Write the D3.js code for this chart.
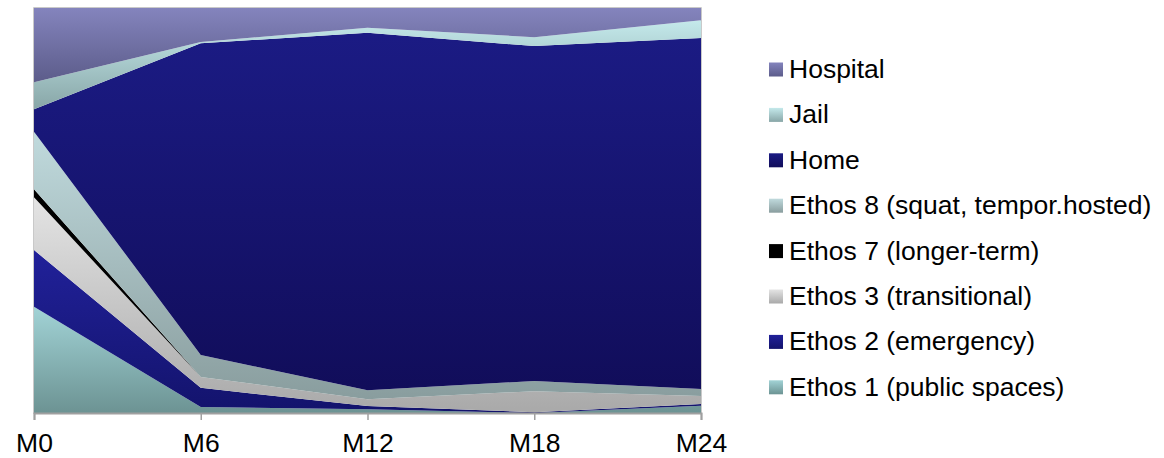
<!DOCTYPE html>
<html>
<head>
<meta charset="utf-8">
<script src="https://cdn.jsdelivr.net/npm/d3@7"></script>
<style>
  html, body { margin: 0; padding: 0; background: #fff; }
  svg { display: block; }
  text { font-family: "Liberation Sans", Arial, sans-serif; fill: #000; }
</style>
</head>
<body>
<svg id="chart" width="1164" height="458"></svg>
<script>
// Follow-up time points
const months = ["M0", "M6", "M12", "M18", "M24"];

// Share of participants (%) in each housing situation, bottom to top of the stack
const ethos1   = [26.2, 1.5, 0.9, 0.0, 1.8];
const ethos2   = [14.0, 4.7, 0.8, 0.2, 0.4];
const ethos3   = [13.0, 2.7, 1.7, 5.2, 2.0];
const ethos7   = [2.0, 0.0, 0.0, 0.0, 0.0];
const ethos8   = [14.2, 5.4, 2.2, 2.5, 1.7];
const home     = [5.5, 76.8, 88.3, 82.7, 86.7];
const jail     = [6.7, 0.3, 1.2, 2.2, 4.4];
const hospital = [18.3, 8.4, 4.9, 7.2, 3.0];

const seriesKeys = ["ethos1", "ethos2", "ethos3", "ethos7", "ethos8", "home", "jail", "hospital"];
const seriesLabels = {
  ethos1: "Ethos 1 (public spaces)",
  ethos2: "Ethos 2 (emergency)",
  ethos3: "Ethos 3 (transitional)",
  ethos7: "Ethos 7 (longer-term)",
  ethos8: "Ethos 8 (squat, tempor.hosted)",
  home: "Home",
  jail: "Jail",
  hospital: "Hospital"
};
const seriesValues = { ethos1, ethos2, ethos3, ethos7, ethos8, home, jail, hospital };

// vertical gradient fills: [top colour, bottom colour]
const fills = {
  hospital: ["#8484bd", "#5c5c8a"],
  jail:     ["#c4e9eb", "#88a6a7"],
  home:     ["#1b1b84", "#110d5a"],
  ethos8:   ["#c0dadd", "#899d9e"],
  ethos7:   ["#000000", "#000000"],
  ethos3:   ["#e4e4e4", "#a9a9a9"],
  ethos2:   ["#21219a", "#13136c"],
  ethos1:   ["#a2d3d6", "#6c9393"]
};

const table = months.map((m, i) => {
  const row = { month: m };
  seriesKeys.forEach(k => { row[k] = seriesValues[k][i]; });
  return row;
});

const svg = d3.select("#chart");
const defs = svg.append("defs");
seriesKeys.forEach(k => {
  const g = defs.append("linearGradient")
    .attr("id", "grad-" + k)
    .attr("x1", 0).attr("y1", 0).attr("x2", 0).attr("y2", 1);
  g.append("stop").attr("offset", "0%").attr("stop-color", fills[k][0]);
  g.append("stop").attr("offset", "100%").attr("stop-color", fills[k][1]);
});

const plot = { left: 34, right: 701, top: 8, bottom: 413 };

const x = d3.scalePoint().domain(months).range([plot.left, plot.right]);
const y = d3.scaleLinear().domain([0, 1]).range([plot.bottom, plot.top]);

const stacked = d3.stack()
  .keys(seriesKeys)
  .offset(d3.stackOffsetExpand)(table);

const area = d3.area()
  .x(d => x(d.data.month))
  .y0(d => y(d[0]))
  .y1(d => y(d[1]));

// plot frame
svg.append("rect")
  .attr("x", plot.left).attr("y", plot.top)
  .attr("width", plot.right - plot.left).attr("height", plot.bottom - plot.top)
  .attr("fill", "none").attr("stroke", "#b8b8b8").attr("stroke-width", 1.5);

svg.append("g")
  .selectAll("path")
  .data(stacked)
  .join("path")
  .attr("d", area)
  .attr("fill", d => "url(#grad-" + d.key + ")");

// category axis
const xAxis = d3.axisBottom(x).tickSize(7).tickPadding(13);
const gx = svg.append("g")
  .attr("transform", `translate(0,${plot.bottom})`)
  .call(xAxis);
gx.select(".domain").attr("stroke", "#a0a0a0").attr("stroke-width", 2);
gx.selectAll(".tick line").attr("stroke", "#a0a0a0").attr("stroke-width", 1.5);
gx.selectAll(".tick text")
  .attr("font-size", 26.5)
  .attr("font-family", "Liberation Sans, Arial, sans-serif")
  .attr("fill", "#000");

// legend, top entry is the top layer of the stack
const legendKeys = seriesKeys.slice().reverse();
const legend = svg.append("g");
legendKeys.forEach((k, i) => {
  const baseY = 78 + i * 45.4;
  legend.append("rect")
    .attr("x", 769).attr("y", baseY - 15.5)
    .attr("width", 14).attr("height", 14)
    .attr("fill", "url(#grad-" + k + ")");
  legend.append("text")
    .attr("x", 789).attr("y", baseY)
    .attr("font-size", 26.5)
    .text(seriesLabels[k]);
});
</script>
</body>
</html>
